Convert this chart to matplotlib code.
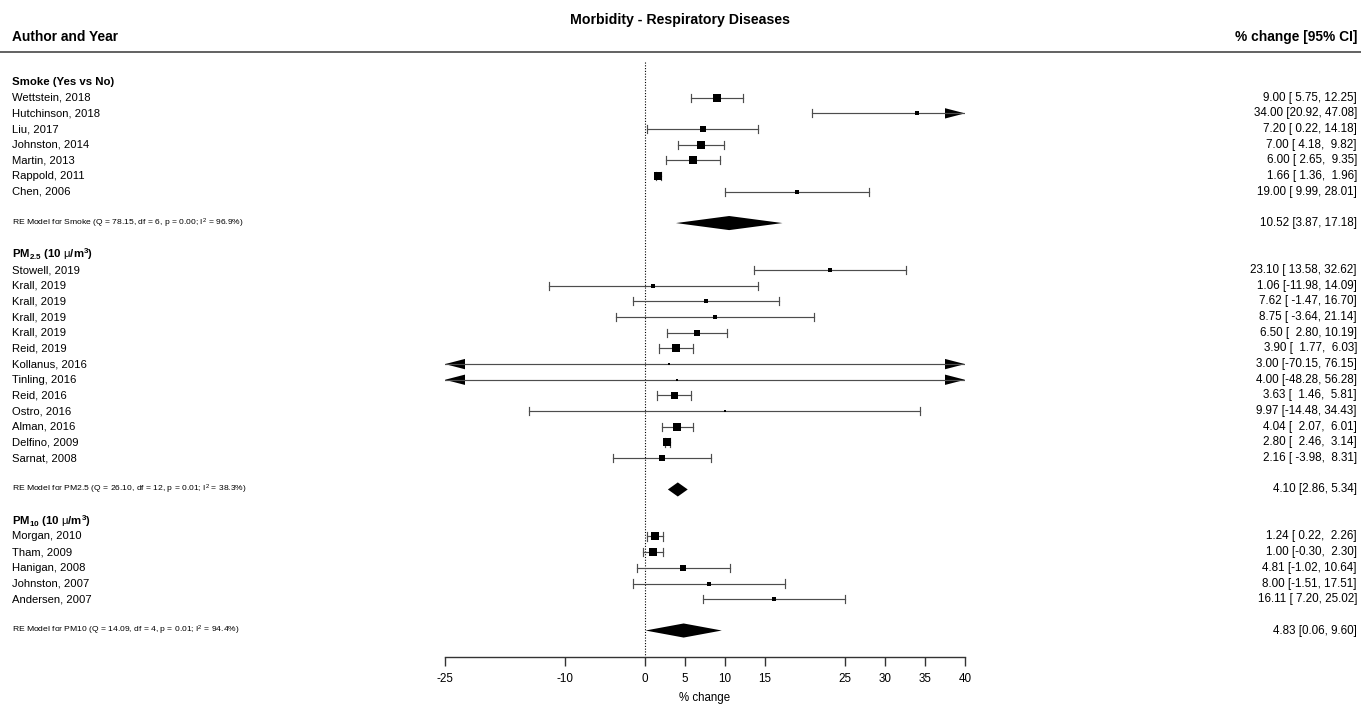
import numpy as np
import matplotlib
matplotlib.use("Agg")
import matplotlib.pyplot as plt
from matplotlib.patches import Polygon

plt.rcParams['font.family'] = ['Liberation Sans', 'DejaVu Sans']
plt.rcParams['mathtext.fontset'] = 'custom'
plt.rcParams['mathtext.rm'] = 'Liberation Sans'
plt.rcParams['mathtext.it'] = 'Liberation Sans:italic'
plt.rcParams['mathtext.bf'] = 'Liberation Sans:bold'
plt.rcParams['axes.unicode_minus'] = False

# ---- data ----
smoke_study = ["Wettstein, 2018", "Hutchinson, 2018", "Liu, 2017", "Johnston, 2014",
               "Martin, 2013", "Rappold, 2011", "Chen, 2006"]
smoke_est = [9.00, 34.00, 7.20, 7.00, 6.00, 1.66, 19.00]
smoke_lo = [5.75, 20.92, 0.22, 4.18, 2.65, 1.36, 9.99]
smoke_hi = [12.25, 47.08, 14.18, 9.82, 9.35, 1.96, 28.01]
smoke_wt = [8.5, 4.0, 6.0, 8.0, 8.0, 8.0, 5.0]
smoke_re = [10.52, 3.87, 17.18]
smoke_re_txt = r"RE Model for Smoke (Q = 78.15, df = 6, p = 0.00; $\mathrm{I}^2$ = 96.9%)"

pm25_study = ["Stowell, 2019", "Krall, 2019", "Krall, 2019", "Krall, 2019", "Krall, 2019",
              "Reid, 2019", "Kollanus, 2016", "Tinling, 2016", "Reid, 2016", "Ostro, 2016",
              "Alman, 2016", "Delfino, 2009", "Sarnat, 2008"]
pm25_est = [23.10, 1.06, 7.62, 8.75, 6.50, 3.90, 3.00, 4.00, 3.63, 9.97, 4.04, 2.80, 2.16]
pm25_lo = [13.58, -11.98, -1.47, -3.64, 2.80, 1.77, -70.15, -48.28, 1.46, -14.48, 2.07, 2.46, -3.98]
pm25_hi = [32.62, 14.09, 16.70, 21.14, 10.19, 6.03, 76.15, 56.28, 5.81, 34.43, 6.01, 3.14, 8.31]
pm25_wt = [4.5, 3.5, 5.0, 4.0, 6.5, 8.0, 2.5, 2.5, 7.0, 2.5, 8.0, 8.0, 5.5]
pm25_re = [4.10, 2.86, 5.34]
pm25_re_txt = r"RE Model for PM2.5 (Q = 26.10, df = 12, p = 0.01; $\mathrm{I}^2$ = 38.3%)"

pm10_study = ["Morgan, 2010", "Tham, 2009", "Hanigan, 2008", "Johnston, 2007", "Andersen, 2007"]
pm10_est = [1.24, 1.00, 4.81, 8.00, 16.11]
pm10_lo = [0.22, -0.30, -1.02, -1.51, 7.20]
pm10_hi = [2.26, 2.30, 10.64, 17.51, 25.02]
pm10_wt = [8.5, 8.0, 5.5, 5.0, 5.0]
pm10_re = [4.83, 0.06, 9.60]
pm10_re_txt = r"RE Model for PM10 (Q = 14.09, df = 4, p = 0.01; $\mathrm{I}^2$ = 94.4%)"

xticks = [-25, -10, 0, 5, 10, 15, 25, 30, 35, 40]
xmin, xmax = -25, 40

# ---- figure ----
fig = plt.figure(figsize=(13.61, 7.04), dpi=100)
ax = fig.add_axes([445 / 1361, 47 / 704, 520 / 1361, 605 / 704])
ax.set_xlim(xmin, xmax)
ax.set_ylim(36.69, -1.915)
for s in ['top', 'left', 'right']:
    ax.spines[s].set_visible(False)
ax.spines['bottom'].set_color('#333333')
ax.spines['bottom'].set_linewidth(1.0)
ax.set_yticks([])
ax.set_xticks(xticks)
ax.tick_params(axis='x', direction='out', length=6.5, width=1.0, color='#333333',
               labelsize=8.4, pad=5)
ax.set_xlabel("% change", fontsize=8.3, labelpad=5)

XL = (12 - 445) / 520
XR = (1357 - 445) / 520
tr = ax.get_yaxis_transform()
ci_col = '#4d4d4d'

fig.text(0.5, 1 - 20 / 704, "Morbidity - Respiratory Diseases", ha='center', va='center',
         fontsize=10.2, fontweight='bold')
ax.text(XL, -2.87, "Author and Year", transform=tr, ha='left', va='center',
        fontsize=9.9, fontweight='bold')
ax.text(XR, -2.87, "% change [95% CI]", transform=tr, ha='right', va='center',
        fontsize=9.9, fontweight='bold')
ax.plot([(0 - 445) / 520, (1361 - 445) / 520], [-1.915, -1.915], transform=tr,
        color='#555555', lw=1.3, clip_on=False)

# reference line
ax.plot([0, 0], [-1.3, 36.69], ls=(0, (1, 1.5)), color='black', lw=0.8)


def arrow(x_tip, r, d):
    ax.add_patch(Polygon([(x_tip, r), (x_tip - d * 2.5, r - 0.33), (x_tip - d * 2.5, r + 0.33)],
                         closed=True, color='black', lw=0, clip_on=False))


def draw_group(r0, header, study, est, lo, hi, wt, re, re_txt):
    ax.text(XL, r0, header, transform=tr, ha='left', va='center', fontsize=8.2,
            fontweight='bold')
    lw_ = max(len(f"{v:.2f}") for v in lo)
    uw_ = max(len(f"{v:.2f}") for v in hi)
    for i in range(len(study)):
        r = r0 + 1 + i
        e, l, h = est[i], lo[i], hi[i]
        ax.text(XL, r, study[i], transform=tr, ha='left', va='center', fontsize=8.1)
        ax.text(XR, r, f"{e:.2f} [{l:{lw_}.2f}, {h:{uw_}.2f}]", transform=tr,
                ha='right', va='center', fontsize=8.4)
        ax.plot([max(l, xmin), min(h, xmax)], [r, r], color=ci_col, lw=0.85)
        if l >= xmin:
            ax.plot([l, l], [r - 0.26, r + 0.26], color=ci_col, lw=0.85)
        else:
            arrow(xmin, r, -1)
        if h <= xmax:
            ax.plot([h, h], [r - 0.26, r + 0.26], color=ci_col, lw=0.85)
        else:
            arrow(xmax, r, 1)
        ax.plot(e, r, marker='s', ms=wt[i] * 0.72, color='black', mew=0)
    rr = r0 + len(study) + 2
    ax.text(XL, rr, re_txt, transform=tr, ha='left', va='center', fontsize=6.1)
    ax.text(XR, rr, f"{re[0]:.2f} [{re[1]:.2f}, {re[2]:.2f}]", transform=tr,
            ha='right', va='center', fontsize=8.4)
    ax.add_patch(Polygon([(re[1], rr), (re[0], rr - 0.45), (re[2], rr), (re[0], rr + 0.45)],
                         closed=True, color='black', lw=0))


draw_group(0, "Smoke (Yes vs No)", smoke_study, smoke_est, smoke_lo, smoke_hi, smoke_wt,
           smoke_re, smoke_re_txt)
draw_group(11, r"$\mathbf{PM_{2.5}\ (10\ }\mathrm{\mu}\mathbf{/m^{3})}$", pm25_study, pm25_est,
           pm25_lo, pm25_hi, pm25_wt, pm25_re, pm25_re_txt)
draw_group(28, r"$\mathbf{PM_{10}\ (10\ }\mathrm{\mu}\mathbf{/m^{3})}$", pm10_study, pm10_est,
           pm10_lo, pm10_hi, pm10_wt, pm10_re, pm10_re_txt)

fig.savefig("out.png", dpi=100)
